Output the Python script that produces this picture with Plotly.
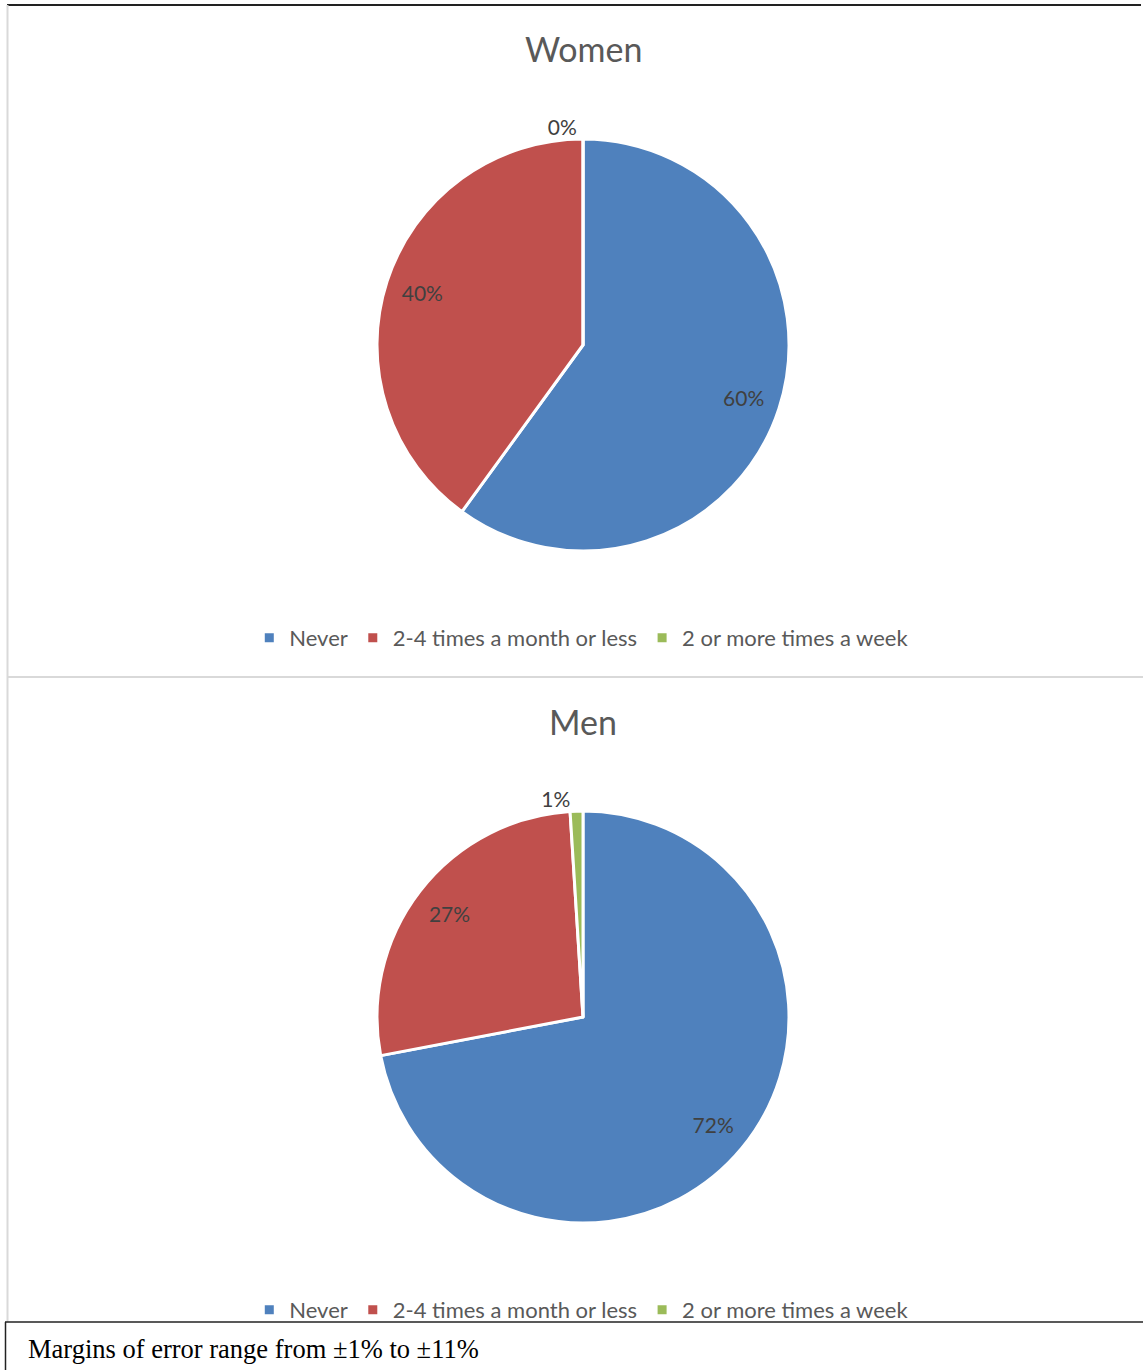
import plotly.graph_objects as go

labels = ["Never", "2-4 times a month or less", "2 or more times a week"]
women_values = [60, 40, 0]
men_values = [72, 27, 1]
colors = ["#4F81BD", "#C0504D", "#9BBB59"]
titles = ["Women", "Men"]
footnote = "Margins of error range from ±1% to ±11%"

W, H = 1143, 1370
FONT = "Lato, 'Open Sans', sans-serif"

def py(p):  # pixel y -> paper y
    return 1 - p / H

def px(p):
    return p / W

r = 206
cx = 583
centers_y = [345, 1017]
groups = ["women", "men"]

fig = go.Figure()
for i, (vals, cy) in enumerate(zip([women_values, men_values], centers_y)):
    dom = dict(x=[px(cx - r), px(cx + r)], y=[py(cy + r), py(cy - r)])
    # coloured pie
    fig.add_trace(go.Pie(
        labels=labels, values=vals, sort=False, direction="clockwise", rotation=0,
        marker=dict(colors=colors, line=dict(color="white", width=3)),
        textinfo="none",
        domain=dom,
        legend="legend" if i == 0 else "legend2",
        legendgroup=groups[i],
        showlegend=True,
        hoverinfo="label+percent",
    ))
    # transparent ring overlay carrying the data labels (places labels near the rim)
    fig.add_trace(go.Pie(
        labels=labels, values=vals, sort=False, direction="clockwise", rotation=0,
        hole=0.64,
        marker=dict(colors=["rgba(0,0,0,0)"] * 3, line=dict(width=0)),
        texttemplate="%{percent:.0%}",
        textposition=["inside", "inside", "outside"],
        insidetextorientation="horizontal",
        textfont=dict(family=FONT, size=21, color="#404040"),
        domain=dom,
        showlegend=False,
        hoverinfo="skip",
    ))

legend_common = dict(orientation="h", xanchor="center", x=0.509, yanchor="middle",
                     font=dict(family=FONT, size=22, color="#595959"),
                     bgcolor="rgba(0,0,0,0)", itemwidth=30, traceorder="normal")

annotations = []
for t, yy in zip(titles, [49, 721]):
    annotations.append(dict(text=t, x=px(583), y=py(yy), xref="paper", yref="paper",
                            xanchor="center", yanchor="middle", showarrow=False,
                            font=dict(family=FONT, size=34, color="#595959")))
annotations.append(dict(text=footnote, x=px(26), y=py(1349), xref="paper", yref="paper",
                        xanchor="left", yanchor="middle", showarrow=False,
                        font=dict(family="Liberation Serif, Times New Roman, serif", size=26.5, color="black")))

shapes = [
    dict(type="line", xref="paper", yref="paper", x0=px(7), x1=px(1141), y0=py(5), y1=py(5),
         line=dict(color="#222222", width=2)),
    dict(type="line", xref="paper", yref="paper", x0=px(7.5), x1=px(7.5), y0=py(5), y1=py(1322),
         line=dict(color="#D9D9D9", width=2)),
    dict(type="line", xref="paper", yref="paper", x0=px(8), x1=px(1143), y0=py(677), y1=py(677),
         line=dict(color="#D9D9D9", width=2)),
    dict(type="line", xref="paper", yref="paper", x0=px(5), x1=px(1143), y0=py(1322), y1=py(1322),
         line=dict(color="#222222", width=1.5)),
    dict(type="line", xref="paper", yref="paper", x0=px(5.5), x1=px(5.5), y0=py(1322), y1=py(1370),
         line=dict(color="#222222", width=1.5)),
]

fig.update_layout(
    width=W, height=H, margin=dict(l=0, r=0, t=0, b=0),
    paper_bgcolor="white", plot_bgcolor="white",
    legend=dict(**legend_common, y=py(638)),
    legend2=dict(**legend_common, y=py(1310)),
    annotations=annotations, shapes=shapes,
)

fig.write_html("out.html", config={"displayModeBar": False},
               post_script="document.body.style.margin='0';document.body.style.overflow='hidden';")
